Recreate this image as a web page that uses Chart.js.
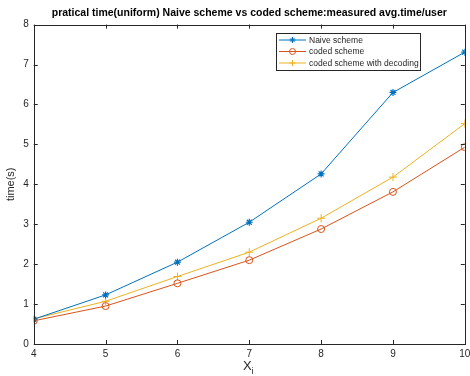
<!DOCTYPE html>
<html><head><meta charset="utf-8">
<script src="https://cdn.jsdelivr.net/npm/chart.js@4"></script>
<style>html,body{margin:0;padding:0;background:#fff}#wrap{width:470px;height:376px}</style>
</head><body><div id="wrap"><canvas id="c" width="470" height="376"></canvas></div>
<script>
const xValues = [4, 5, 6, 7, 8, 9, 10];
const naive = [0.62, 1.23, 2.05, 3.05, 4.26, 6.30, 7.31];
const coded = [0.58, 0.95, 1.52, 2.10, 2.88, 3.81, 4.93];
const codedDecoding = [0.63, 1.07, 1.69, 2.30, 3.15, 4.18, 5.52];
const seriesLabels = ['Naive scheme', 'coded scheme', 'coded scheme with decoding'];
const titleText = 'pratical time(uniform) Naive scheme vs coded scheme:measured avg.time/user';
const yTitle = 'time(s)';
const xTitleMain = 'X';
const xTitleSub = 'i';

const FONT = '"Liberation Sans", Arial, sans-serif';
const mk = (arr) => arr.map((v, i) => ({x: xValues[i], y: v}));

const boxPlugin = {
  id: 'box',
  afterDraw(chart) {
    const {ctx, chartArea: a, scales: {x, y}} = chart;
    ctx.save();
    ctx.strokeStyle = '#262626';
    ctx.lineWidth = 1;
    ctx.strokeRect(Math.round(a.left) + 0.5, Math.round(a.top) + 0.5, Math.round(a.right - a.left), Math.round(a.bottom - a.top));
    ctx.beginPath();
    x.ticks.forEach(t => {
      const px = Math.round(x.getPixelForValue(t.value)) + 0.5;
      ctx.moveTo(px, a.bottom); ctx.lineTo(px, a.bottom - 4);
      ctx.moveTo(px, a.top); ctx.lineTo(px, a.top + 4);
    });
    y.ticks.forEach(t => {
      const py = Math.round(y.getPixelForValue(t.value)) + 0.5;
      ctx.moveTo(a.left, py); ctx.lineTo(a.left + 4, py);
      ctx.moveTo(a.right, py); ctx.lineTo(a.right - 4, py);
    });
    ctx.stroke();
    // x title with subscript
    ctx.fillStyle = '#262626';
    ctx.font = '13px ' + FONT;
    ctx.textBaseline = 'alphabetic';
    const cx = (a.left + a.right) / 2;
    const w = ctx.measureText(xTitleMain).width;
    ctx.fillText(xTitleMain, cx - w / 2 - 2, 370);
    ctx.font = '9px ' + FONT;
    ctx.fillText(xTitleSub, cx + w / 2 - 2, 374);
    // legend
    const lx = 276, ly = 33, lw = 144, lh = 37;
    ctx.fillStyle = '#fff';
    ctx.fillRect(lx, ly, lw, lh);
    ctx.strokeStyle = '#262626';
    ctx.strokeRect(lx + 0.5, ly + 0.5, lw, lh);
    ctx.font = '8.5px ' + FONT;
    ctx.textBaseline = 'middle';
    chart.data.datasets.forEach((ds, i) => {
      const yy = ly + 7 + i * 11.5;
      ctx.strokeStyle = ds.borderColor;
      ctx.fillStyle = ds.backgroundColor;
      ctx.lineWidth = 1;
      ctx.beginPath(); ctx.moveTo(lx + 3, yy); ctx.lineTo(lx + 30, yy); ctx.stroke();
      Chart.helpers.drawPoint(ctx, {pointStyle: ds.pointStyle, radius: 3, borderWidth: 1}, lx + 16.5, yy);
      ctx.fillStyle = '#262626';
      ctx.fillText(ds.label, lx + 33, yy + 0.5);
    });
    ctx.restore();
  }
};

new Chart(document.getElementById('c'), {
  type: 'line',
  data: {
    datasets: [
      {label: seriesLabels[0], data: mk(naive), borderColor: '#0072BD', backgroundColor: '#0072BD', pointStyle: 'star', pointRadius: 3.5, pointBorderWidth: 1.2, borderWidth: 1},
      {label: seriesLabels[1], data: mk(coded), borderColor: '#D95319', backgroundColor: 'rgba(0,0,0,0)', pointStyle: 'circle', pointRadius: 3.5, pointBorderWidth: 1, borderWidth: 1},
      {label: seriesLabels[2], data: mk(codedDecoding), borderColor: '#EDB120', backgroundColor: '#EDB120', pointStyle: 'cross', pointRadius: 4, pointBorderWidth: 1, borderWidth: 1}
    ]
  },
  options: {
    responsive: false,
    animation: false,
    devicePixelRatio: 1,
    layout: {padding: {left: 0, right: 4, top: 0, bottom: 12}},
    plugins: {
      legend: {display: false},
      tooltip: {enabled: false},
      title: {display: true, fullSize: false, text: titleText, color: '#000', font: {family: FONT, size: 10.5, weight: 'bold'}, padding: {top: 7, bottom: 5}}
    },
    scales: {
      x: {
        type: 'linear', min: 4, max: 10,
        afterFit(s) { s.paddingRight = 0; s.paddingLeft = 0; },
        ticks: {stepSize: 1, color: '#262626', font: {family: FONT, size: 10}, padding: 4, maxRotation: 0},
        grid: {display: false, drawTicks: false},
        border: {display: false}
      },
      y: {
        min: 0, max: 8,
        ticks: {stepSize: 1, color: '#262626', font: {family: FONT, size: 10}, padding: 5},
        grid: {display: false, drawTicks: false},
        border: {display: false},
        title: {display: true, text: yTitle, color: '#262626', font: {family: FONT, size: 11}, padding: {top: 4, bottom: 1}}
      }
    }
  },
  plugins: [boxPlugin]
});
</script>
</body></html>
